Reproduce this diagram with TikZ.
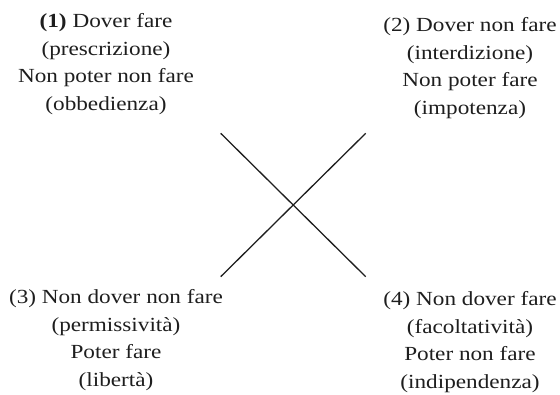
\documentclass[tikz,border=0pt]{standalone}
\usepackage{fontspec}
\setmainfont[FakeStretch=1.16]{Liberation Serif}
\definecolor{ink}{HTML}{1E1E1E}
\tikzset{
  lbl/.style={align=center, inner sep=0pt, anchor=north, text=ink,
              font=\fontsize{20}{27.8}\selectfont},
  bar/.style={draw=ink, line width=1.3pt}
}
\begin{document}
\begin{tikzpicture}[x=1pt, y=1pt]
  \useasboundingbox (0,0) rectangle (560,394);
  % the four modalities
  \node[lbl] (p1) at (106,381) {\textbf{(1)} Dover fare\\(prescrizione)\\Non poter non fare\\(obbedienza)};
  \node[lbl] (p2) at (470,377) {(2) Dover non fare\\(interdizione)\\Non poter fare\\(impotenza)};
  \node[lbl] (p3) at (116,105) {(3) Non dover non fare\\(permissività)\\Poter fare\\(libertà)};
  \node[lbl] (p4) at (470,103) {(4) Non dover fare\\(facoltatività)\\Poter non fare\\(indipendenza)};
  % ends of the crossing diagonals
  \coordinate (c1) at (220.7,260.7);
  \coordinate (c2) at (365.7,260.7);
  \coordinate (c3) at (220.7,117.3);
  \coordinate (c4) at (365.7,117.3);
  \draw[bar] (c1) -- (c4);
  \draw[bar] (c2) -- (c3);
\end{tikzpicture}
\end{document}
